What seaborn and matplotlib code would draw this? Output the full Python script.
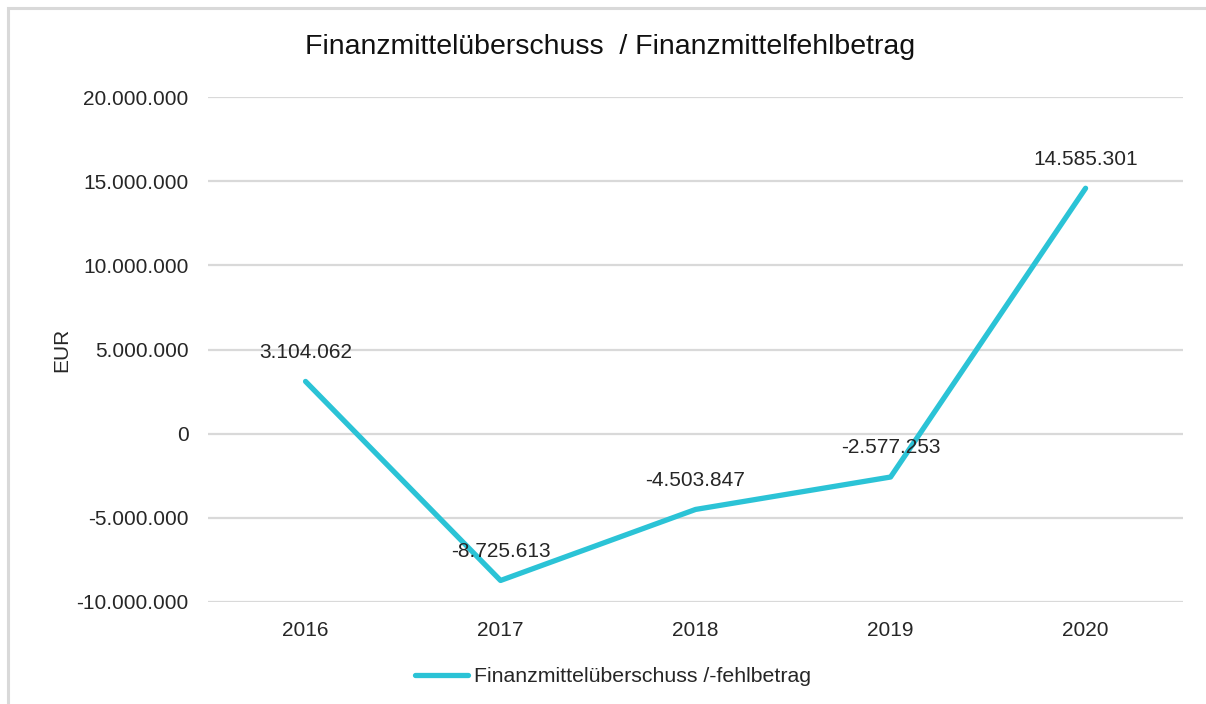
import pandas as pd
import numpy as np
import matplotlib
matplotlib.use("Agg")
import matplotlib.pyplot as plt
import matplotlib.ticker as mticker
import seaborn as sns

sns.set_theme(style="white")
plt.rcParams['font.family'] = ['Liberation Sans', 'DejaVu Sans']

years = ['2016', '2017', '2018', '2019', '2020']
values = [3104062, -8725613, -4503847, -2577253, 14585301]
series_name = 'Finanzmittelüberschuss /-fehlbetrag'

df = pd.DataFrame({'Jahr': years, 'Wert': values, 'Reihe': series_name})

line_color = '#2BC3D6'
text_color = '#262626'
grid_color = '#D9D9D9'


def de_fmt(v, pos=None):
    s = f"{abs(int(round(v))):,}".replace(',', '.')
    return ('-' if v < 0 else '') + s


fig = plt.figure(figsize=(12.06, 7.04), dpi=100)
ax = fig.add_axes([0.1725, 0.145, 0.8085, 0.717])

sns.lineplot(data=df, x='Jahr', y='Wert', hue='Reihe', palette=[line_color],
             linewidth=3.8, sort=False, ax=ax)

ax.set_ylim(-10000000, 20000000)
ax.set_xlim(-0.5, 4.5)
ax.yaxis.set_major_locator(mticker.MultipleLocator(5000000))
ax.yaxis.set_major_formatter(mticker.FuncFormatter(de_fmt))
ax.grid(axis='y', color=grid_color, linewidth=1.6)
ax.set_axisbelow(True)
for sp in ax.spines.values():
    sp.set_visible(False)
ax.tick_params(axis='both', length=0, labelsize=15, colors=text_color)
ax.tick_params(axis='y', pad=14)
ax.tick_params(axis='x', pad=14)
ax.set_xlabel('')
ax.set_ylabel('EUR', fontsize=15, color=text_color, labelpad=4)

for i, v in enumerate(values):
    ax.annotate(de_fmt(v), (i, v), xytext=(0, 21), textcoords='offset points',
                ha='center', va='center', fontsize=15, color=text_color)

fig.suptitle('Finanzmittelüberschuss  / Finanzmittelfehlbetrag', fontsize=20.5,
             color='#111111', x=610 / 1206, y=1 - 47 / 704, va='center')

handles, labels = ax.get_legend_handles_labels()
fig.legend(handles, labels, loc='center', bbox_to_anchor=(613 / 1206, 1 - 677 / 704),
           frameon=False, fontsize=15.3, handlelength=2.5, handletextpad=0.3,
           labelcolor=text_color)
ax.get_legend().remove()

fig.patches.append(plt.Rectangle((8 / 1206, -0.1), 1.2, 1 - 8 / 704 + 0.1,
                                 transform=fig.transFigure, fill=False,
                                 edgecolor=grid_color, linewidth=2.2))

fig.savefig('out.png', dpi=100, facecolor='white')
